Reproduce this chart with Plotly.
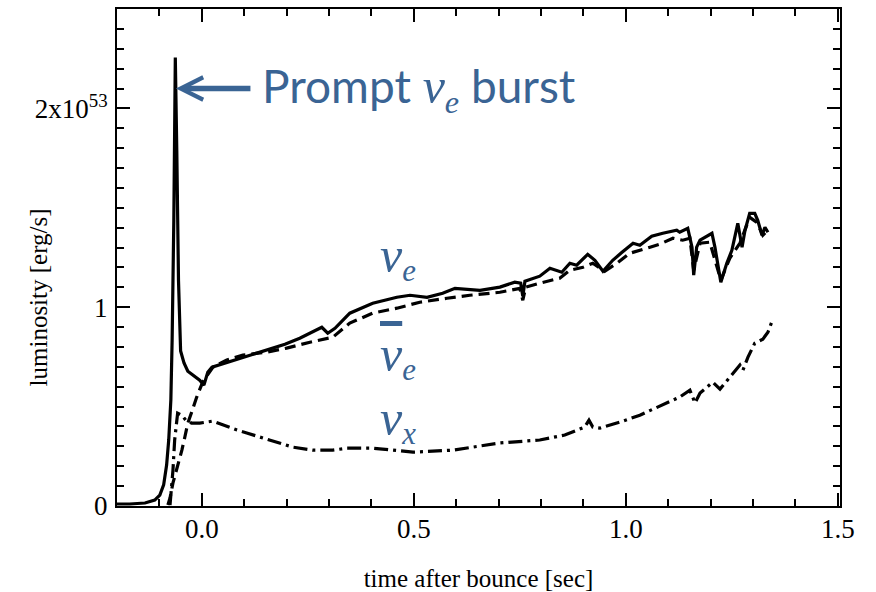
import plotly.graph_objects as go

# ---- data (time after bounce [s], luminosity [1e53 erg/s]) ----
nue_t = [-0.200, -0.170, -0.134, -0.111, -0.099, -0.090, -0.083, -0.078, -0.073, -0.070,
         -0.066, -0.0625, -0.059, -0.055, -0.050, -0.042, -0.033, -0.017, -0.005, 0.005,
         0.014, 0.024, 0.047, 0.078, 0.113, 0.153, 0.196, 0.231, 0.267, 0.283,
         0.297, 0.314, 0.349, 0.403, 0.460, 0.491, 0.531, 0.568, 0.597, 0.656,
         0.703, 0.738, 0.752, 0.757, 0.762, 0.797, 0.821, 0.849, 0.868, 0.884,
         0.910, 0.927, 0.946, 0.969, 0.991, 1.017, 1.033, 1.061, 1.087, 1.120,
         1.127, 1.146, 1.156, 1.160, 1.167, 1.175, 1.203, 1.210, 1.224, 1.238,
         1.250, 1.264, 1.274, 1.281, 1.292, 1.304, 1.311, 1.321, 1.328, 1.335]
nue_L = [0.010, 0.010, 0.015, 0.030, 0.055, 0.106, 0.206, 0.332, 0.533, 0.834,
         1.437, 2.256, 1.789, 1.136, 0.780, 0.720, 0.678, 0.653, 0.633, 0.608,
         0.673, 0.698, 0.714, 0.734, 0.759, 0.784, 0.814, 0.844, 0.884, 0.899,
         0.869, 0.894, 0.970, 1.020, 1.050, 1.060, 1.050, 1.070, 1.095, 1.085,
         1.101, 1.126, 1.121, 1.055, 1.131, 1.156, 1.196, 1.176, 1.221, 1.211,
         1.266, 1.236, 1.181, 1.236, 1.276, 1.322, 1.312, 1.357, 1.372, 1.387,
         1.377, 1.397, 1.302, 1.161, 1.302, 1.337, 1.372, 1.302, 1.126, 1.221,
         1.286, 1.422, 1.302, 1.387, 1.472, 1.472, 1.437, 1.362, 1.402, 1.377]

nuebar_t = [-0.080, -0.075, -0.068, -0.057, -0.047, -0.040, -0.033, -0.024, -0.012, 0.002,
            0.026, 0.059, 0.097, 0.153, 0.200, 0.255, 0.309, 0.349, 0.403, 0.460,
            0.514, 0.578, 0.632, 0.703, 0.750, 0.757, 0.764, 0.797, 0.844, 0.868,
            0.899, 0.922, 0.950, 0.979, 1.009, 1.057, 1.080, 1.111, 1.134, 1.151,
            1.160, 1.175, 1.198, 1.224, 1.245, 1.269, 1.292, 1.309, 1.323, 1.335]
nuebar_L = [0.005, 0.040, 0.116, 0.196, 0.281, 0.347, 0.417, 0.472, 0.548, 0.623,
            0.698, 0.734, 0.759, 0.774, 0.794, 0.824, 0.849, 0.920, 0.970, 0.995,
            1.025, 1.045, 1.060, 1.075, 1.095, 1.035, 1.101, 1.121, 1.146, 1.186,
            1.201, 1.221, 1.181, 1.221, 1.271, 1.302, 1.317, 1.347, 1.337, 1.347,
            1.186, 1.322, 1.327, 1.136, 1.246, 1.322, 1.452, 1.427, 1.362, 1.387]

nux_t = [-0.075, -0.068, -0.064, -0.057, -0.047, -0.038, -0.024, -0.005, 0.026, 0.050,
         0.083, 0.106, 0.137, 0.177, 0.215, 0.262, 0.309, 0.342, 0.403, 0.498,
         0.592, 0.703, 0.797, 0.856, 0.903, 0.913, 0.922, 0.939, 0.986, 1.033,
         1.080, 1.127, 1.151, 1.163, 1.175, 1.205, 1.222, 1.245, 1.269, 1.276,
         1.288, 1.304, 1.323, 1.335, 1.344]
nux_L = [0.005, 0.181, 0.332, 0.467, 0.457, 0.432, 0.417, 0.417, 0.427, 0.407,
         0.382, 0.367, 0.347, 0.322, 0.296, 0.281, 0.281, 0.291, 0.291, 0.271,
         0.281, 0.317, 0.332, 0.357, 0.397, 0.432, 0.397, 0.392, 0.422, 0.457,
         0.503, 0.548, 0.583, 0.518, 0.568, 0.623, 0.588, 0.648, 0.709, 0.683,
         0.749, 0.819, 0.839, 0.874, 0.925]

x_tickvals = [0.0, 0.5, 1.0, 1.5]
x_ticktext = ["0.0", "0.5", "1.0", "1.5"]
y_tickvals = [0, 1, 2]
y_ticktext = ["0", "1", "2x10<sup>53</sup>"]

BLUE = "#3A6494"
SERIF = "Liberation Serif, Times New Roman, serif"

fig = go.Figure()
fig.add_trace(go.Scatter(x=nux_t, y=nux_L, mode="lines",
                         line=dict(color="black", width=3.2, dash="14px,5px,3px,5px"),
                         showlegend=False))
fig.add_trace(go.Scatter(x=nuebar_t, y=nuebar_L, mode="lines",
                         line=dict(color="black", width=3.2, dash="11px,6px"),
                         showlegend=False))
fig.add_trace(go.Scatter(x=nue_t, y=nue_L, mode="lines",
                         line=dict(color="black", width=3.2),
                         showlegend=False))

axis_common = dict(
    showline=True, linecolor="black", linewidth=2, mirror="allticks",
    ticks="inside", tickcolor="black", tickwidth=2, ticklen=13,
    showgrid=False, zeroline=False,
    tickfont=dict(family=SERIF, size=27, color="black"),
    minor=dict(ticks="inside", ticklen=7, tickwidth=2, tickcolor="black",
               dtick=0.1, tick0=0, showgrid=False),
)

fig.update_layout(
    width=876, height=592,
    margin=dict(l=117, r=36, t=9, b=86),
    paper_bgcolor="white", plot_bgcolor="white",
    xaxis=dict(range=[-0.2, 1.505], tickmode="array", tickvals=x_tickvals,
               ticktext=x_ticktext, automargin=False, ticklabelstandoff=-2,
               title=dict(text="time after bounce [sec]",
                          font=dict(family=SERIF, size=25, color="black"),
                          standoff=30),
               **axis_common),
    yaxis=dict(range=[0, 2.5], tickmode="array", tickvals=y_tickvals,
               ticktext=y_ticktext, automargin=False, ticklabelstandoff=2,
               **axis_common),
)

# y-axis title (placed slightly below the centre, as in the original)
fig.add_annotation(text="luminosity [erg/s]", textangle=-90, showarrow=False,
                   xref="paper", yref="y", x=-0.109, y=1.05,
                   xanchor="center", yanchor="middle",
                   font=dict(family=SERIF, size=25, color="black"))

# arrow to the burst peak
fig.add_annotation(text="", x=-0.061, y=2.10, xref="x", yref="y",
                   showarrow=True, ax=76, ay=0, axref="pixel", ayref="pixel",
                   arrowhead=5, arrowwidth=5.5, arrowsize=0.8, arrowcolor=BLUE,
                   standoff=0)

NU = "<span style=\"font-family:'Liberation Serif';font-style:italic;font-size:50px\">ν</span>"
SUB = lambda s: ("<sub><span style=\"font-family:'Liberation Serif';font-style:italic\">"
                 + s + "</span></sub>")

fig.add_annotation(text="Prompt " + NU + SUB("e") + " burst", showarrow=False,
                   xref="x", yref="y", x=0.138, y=2.10, xanchor="left", yanchor="middle",
                   font=dict(family="Lato, Noto Sans, sans-serif", size=46, color=BLUE))

fig.add_annotation(text=NU + SUB("e"), showarrow=False,
                   xref="x", yref="y", x=0.415, y=1.25, xanchor="left", yanchor="middle",
                   font=dict(family="Lato", size=44, color=BLUE))
fig.add_annotation(text="<span style=\"text-decoration:overline\">" + NU + "</span>" + SUB("e"),
                   showarrow=False,
                   xref="x", yref="y", x=0.415, y=0.75, xanchor="left", yanchor="middle",
                   font=dict(family="Lato", size=44, color=BLUE))
fig.add_annotation(text=NU + SUB("x"), showarrow=False,
                   xref="x", yref="y", x=0.415, y=0.43, xanchor="left", yanchor="middle",
                   font=dict(family="Lato", size=44, color=BLUE))

fig.write_html("out.html")
